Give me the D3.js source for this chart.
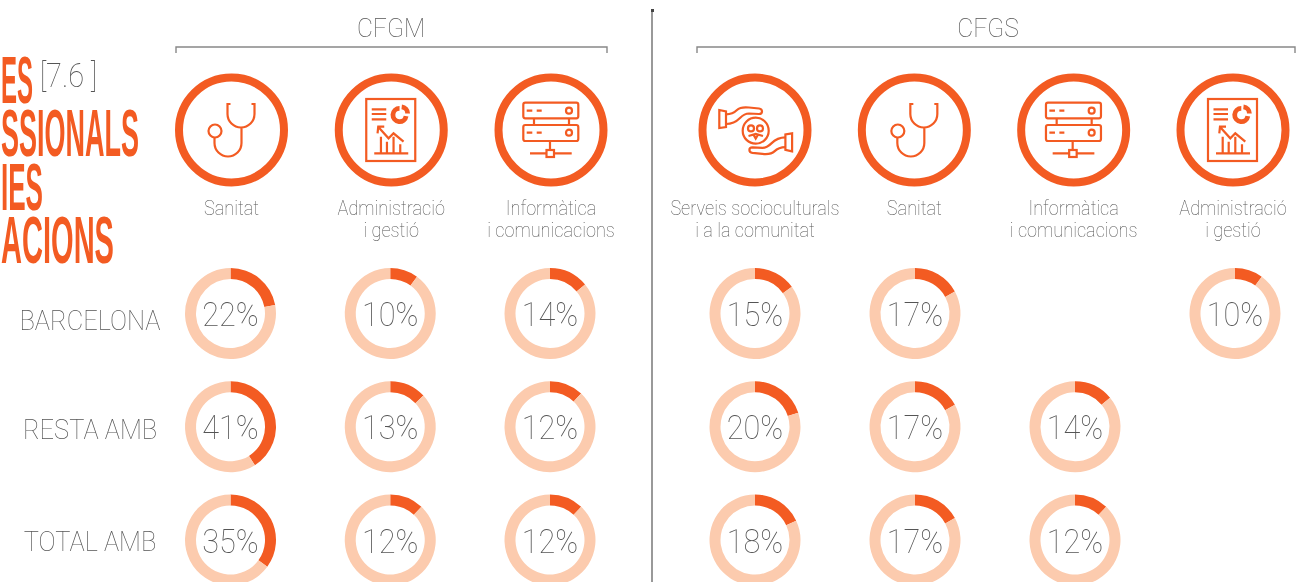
<!DOCTYPE html>
<html>
<head>
<meta charset="utf-8">
<script src="https://cdn.jsdelivr.net/npm/d3@7"></script>
<style>
html, body { margin: 0; padding: 0; background: #fff; overflow: hidden; }
svg { will-change: transform; }
text { font-family: Roboto, sans-serif; font-weight: 100; fill: #555; }
</style>
</head>
<body>
<div id="chart"></div>
<script>
// data
const groups = ["CFGM", "CFGS"];
const cfgmFamilies = ["Sanitat", "Administració|i gestió", "Informàtica|i comunicacions"];
const cfgsFamilies = ["Serveis socioculturals|i a la comunitat", "Sanitat", "Informàtica|i comunicacions", "Administració|i gestió"];
const rows = ["BARCELONA", "RESTA AMB", "TOTAL AMB"];
const cfgmValues = [[22, 41, 35], [10, 13, 12], [14, 12, 12]];
const cfgsValues = [[15, 20, 18], [17, 17, 17], [null, 14, 12], [10, null, null]];
const titleLines = ["ES", "SSIONALS", "IES", "ACIONS"];
const tableRef = "[7.6 ]";

const w = 1300, h = 582;
const orange = "#F35B22", peach = "#FCCBAE";

var svg = d3.select("#chart").append("svg")
  .attr("width", w)
  .attr("height", h)
  .style("display", "block");

// column and row scales, rings and donuts do not line up exactly in the original
var iconCfgm = d3.scalePoint().domain(d3.range(cfgmFamilies.length)).range([231.5, 551]);
var iconCfgs = d3.scalePoint().domain(d3.range(cfgsFamilies.length)).range([755, 1233]);
var donutCfgm = d3.scalePoint().domain(d3.range(cfgmFamilies.length)).range([230.5, 550]);
var donutCfgs = d3.scalePoint().domain(d3.range(cfgsFamilies.length)).range([755, 1235]);
var yRow = d3.scalePoint().domain(rows).range([313.5, 540]);
var rowLabelY = d3.scaleOrdinal().domain(rows).range([330, 439, 551]);

// narrow text helper, the original face is a condensed light one
function label(g, str, x, y, size, sx) {
  return g.append("text")
    .attr("transform", "translate(" + x + "," + y + ") scale(" + sx + ",1)")
    .attr("text-anchor", "middle")
    .attr("font-size", size)
    .text(str);
}

// title, every line squeezed to end where it ends in the original
var titleY = d3.scalePoint().domain(titleLines).range([103, 263]);
var titleEnd = d3.scaleOrdinal().domain(titleLines).range([33, 139, 43, 114]);
svg.append("g").selectAll("text")
  .data(titleLines)
  .enter().append("text")
  .attr("font-size", 66)
  .style("font-family", "'Liberation Sans Narrow', sans-serif")
  .style("font-weight", 700)
  .style("fill", orange)
  .text(d => d)
  .attr("transform", (d, i, n) => "translate(1," + titleY(d) + ") scale(" + ((titleEnd(d) - 1) / n[i].getComputedTextLength()) + ",1)");

label(svg, tableRef, 68.5, 87, 33, 0.88);

// divider
svg.append("line")
  .attr("x1", 652).attr("x2", 652)
  .attr("y1", 10).attr("y2", h)
  .attr("stroke", "#777")
  .attr("stroke-width", 1.5);
svg.append("rect")
  .attr("x", 651).attr("y", 9)
  .attr("width", 3).attr("height", 3)
  .attr("fill", "#444");

// group headers and brackets
var brackets = [[176, 607], [697, 1295]];
var headerX = [391, 988];
groups.forEach((g, i) => {
  var b = brackets[i];
  label(svg, g, headerX[i], 37, 26, 0.95);
  svg.append("path")
    .attr("d", "M" + b[0] + ",53V47H" + b[1] + "V53")
    .attr("fill", "none")
    .attr("stroke", "#888")
    .attr("stroke-width", 1.4);
});

// icons, drawn around the centre of the ring
function stethoscope(g) {
  g.append("path").attr("d", "M-1,-26H-4V-16A13.5,13.5 0 0 0 23,-16V-26H20M10,-2.5V13A13.5,13.5 0 0 1 -17,13V8");
  g.append("circle").attr("cx", -16.5).attr("cy", 1).attr("r", 6.5);
}
var reportArc = d3.arc().innerRadius(4.2).outerRadius(9);
function report(g) {
  g.append("rect").attr("x", -25).attr("y", -31).attr("width", 49).attr("height", 62);
  g.append("path").attr("d", "M-19.5,-20.7H-5M-19.5,-16H-5M-19.5,-10.7H-5");
  g.append("path")
    .attr("transform", "translate(8.3,-15)")
    .attr("d", reportArc({ startAngle: Math.PI * 0.55, endAngle: Math.PI * 2 }))
    .style("fill", orange).style("stroke", "none");
  g.append("path")
    .attr("transform", "translate(9.8,-16.5)")
    .attr("d", reportArc({ startAngle: 0.1, endAngle: Math.PI * 0.5 }))
    .style("fill", orange).style("stroke", "none");
  g.append("path").attr("d", "M-12.7,-2.7L-2.7,8.3L2.3,3.3L12.3,11.7M-13.7,3.3L-13,-3.3H-7");
  g.append("path").attr("d", "M-17,23.3H17M-10.3,23.3V6.7M-4.3,23.3V11.7M2.3,23.3V6.7M9,23.3V14.3");
}
function server(g) {
  g.append("rect").attr("x", -27.7).attr("y", -27.3).attr("width", 55).attr("height", 15.6).attr("rx", 2);
  g.append("rect").attr("x", -27.7).attr("y", -5).attr("width", 55).attr("height", 16).attr("rx", 2);
  g.append("path").attr("d", "M-17,-11.7V-5M18,-11.7V-5M-24.3,-19.3H-18.7M-14.3,-19.3H-9.3M-24.3,2.7H-18.7M-14.3,2.7H-9.3");
  g.append("circle").attr("cx", 18).attr("cy", -19.3).attr("r", 3);
  g.append("circle").attr("cx", 18).attr("cy", 2.7).attr("r", 3);
  g.append("path").attr("d", "M-1,11V20M-21,23.3H-4.5M3,23.3H20.7");
  g.append("rect").attr("x", -4.5).attr("y", 20).attr("width", 7.5).attr("height", 7);
}
function hands(g) {
  g.append("circle").attr("cx", 0.7).attr("cy", 0.7).attr("r", 13);
  g.append("circle").attr("cx", -4).attr("cy", -1.6).attr("r", 3);
  g.append("circle").attr("cx", 5).attr("cy", -1.6).attr("r", 3);
  g.append("path").attr("d", "M-6.5,6L0.7,4L8,6M-1.5,4.6L0.7,8.5L3,4.6");
  [0, 180].forEach(a => {
    var p = g.append("g").attr("transform", "translate(0.7,0.7) rotate(" + a + ") translate(-0.7,-0.7)");
    p.append("path").attr("d", "M-35.7,-20L-29,-18.5V-3L-35.7,-2Z");
    p.append("path").attr("d", "M-29,-15.7C-24,-15.7 -21,-17 -18,-20C-15,-23 -11,-23 -6,-22.5L4,-21.5C8,-21 8,-16 4,-16L-6,-16.5C-10,-16.5 -12,-15 -15,-12C-19,-8 -23,-6 -29,-6");
  });
}
const familyIcons = { "Sanitat": stethoscope, "Administració": report, "Informàtica": server, "Serveis socioculturals": hands };

var pie = d3.pie().sort(null);
var arc = d3.arc().innerRadius(34.5).outerRadius(45.5);

function drawColumns(families, values, xIcon, xDonut) {
  families.forEach((fam, i) => {
    var cx = xIcon(i);
    var lines = fam.split("|");
    var col = svg.append("g");

    // icon ring
    var icon = col.append("g").attr("transform", "translate(" + cx + ",130)");
    icon.append("circle").attr("r", 52.5)
      .attr("fill", "none").attr("stroke", orange).attr("stroke-width", 8);
    var glyph = icon.append("g")
      .attr("fill", "none").attr("stroke", orange).attr("stroke-width", 2.2);
    familyIcons[lines[0]](glyph);

    lines.forEach((t, k) => label(col, t, cx, 215 + k * 22, 19.5, 0.93));

    // donuts, empty cell where the family is not in the top list
    rows.forEach((r, k) => {
      var v = values[i][k];
      if (v === null) return;
      var d = col.append("g").attr("transform", "translate(" + xDonut(i) + "," + yRow(r) + ")");
      d.selectAll("path")
        .data(pie([v, 100 - v]))
        .enter().append("path")
        .attr("d", arc)
        .attr("fill", (e, n) => n === 0 ? orange : peach);
      label(d, v + "%", 0, 12.5, 33, 0.93);
    });
  });
}
drawColumns(cfgmFamilies, cfgmValues, iconCfgm, donutCfgm);
drawColumns(cfgsFamilies, cfgsValues, iconCfgs, donutCfgs);

// row labels
rows.forEach(r => label(svg, r, 90, rowLabelY(r), 28, 0.91));
</script>
</body>
</html>
